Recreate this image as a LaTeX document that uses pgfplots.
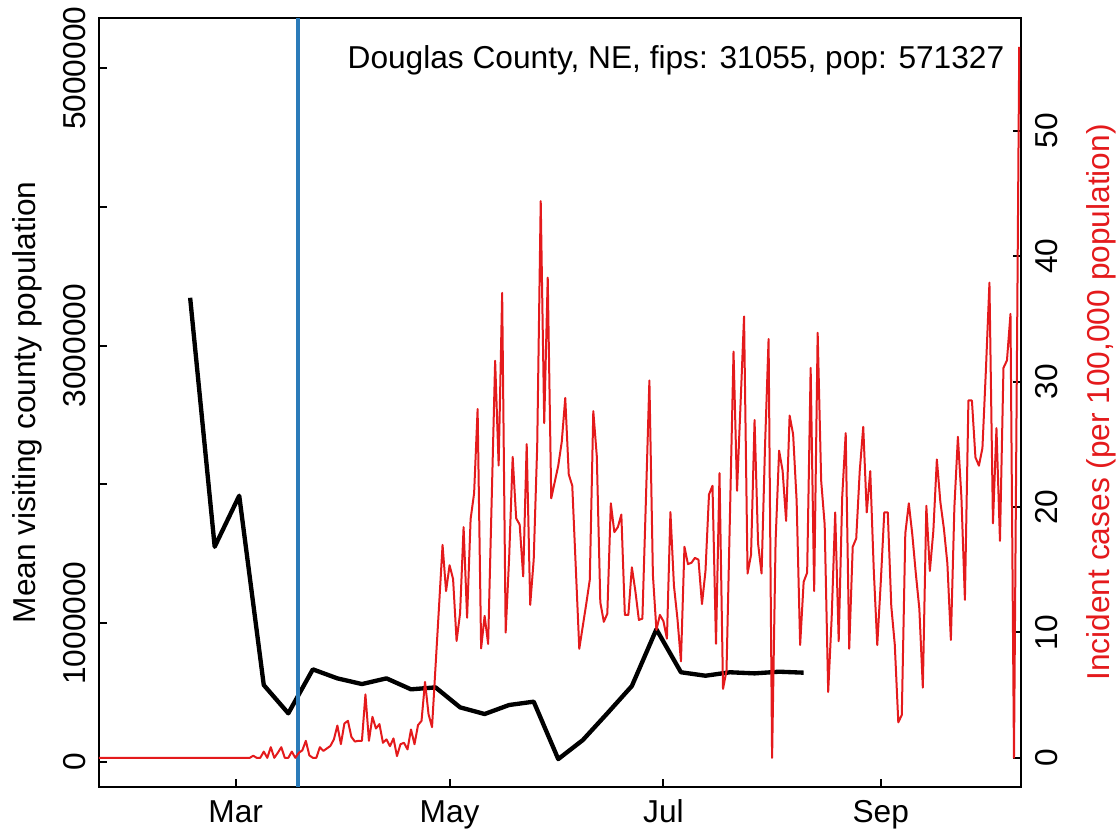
\documentclass[border=0pt]{standalone}
\usepackage{fontspec}
\setmainfont{Liberation Sans}
\usepackage{pgfplots}
\pgfplotsset{compat=1.18}
\definecolor{casered}{HTML}{E41A1C}
\definecolor{lineblue}{HTML}{2B7BB9}

\begin{document}
\begin{tikzpicture}[x=1pt,y=1pt]
\useasboundingbox (0,0) rectangle (335.7,249.3);
\pgfplotsset{
  every axis/.append style={
    scale only axis, width=276.6pt, height=230.6pt,
    at={(29.7pt,13.29pt)}, anchor=south west,
    xmin=-39, xmax=224,
    font=\fontsize{9.5}{11}\selectfont,
    tick align=inside, major tick length=2.4pt,
    tick style={line width=0.6pt, black},
    axis line style={line width=0.6pt, -},
    /pgf/number format/assume math mode=true,
  }
}
% mobility (left axis), x = days since 1 March 2020
\begin{axis}[
  ymin=-0.18e6, ymax=5.362e6,
  xtick={0,61,122,184}, xticklabels={Mar,May,Jul,Sep},
  xtick pos=left, ytick pos=left,
  ytick={0,1000000,2000000,3000000,4000000,5000000},
  yticklabels={0,1000000,,3000000,,5000000},
  scaled y ticks=false,
  xticklabel style={anchor=base, inner sep=0pt}, xticklabel shift=10.8pt,
  yticklabel style={rotate=90, anchor=south, inner sep=0pt}, yticklabel shift=3.9pt,
  ylabel={Mean visiting county population},
  ylabel style={at={(axis description cs:-0.0694,0.5)}, anchor=base, inner sep=0pt},
]
\addplot[black, line width=1.3pt, line join=round, mark=none] coordinates {
(-13,3345000) (-6,1550000) (1,1918000) (8,553000) (15,349000) (22,666000)
(29,601000) (36,560000) (43,601000) (50,522000) (57,536000) (64,392000)
(71,344000) (78,409000) (85,433000) (92,19000) (99,156000) (106,349000)
(113,546000) (120,955000) (127,645000) (134,620000) (141,645000)
(148,637000) (155,649000) (162,642000)
};
\addplot[lineblue, line width=1.3pt, mark=none] coordinates {(17.8,-180000) (17.8,5362000)};
\node[anchor=base east, inner sep=0pt] at (rel axis cs:0.9826,0.9337)
  {Douglas County, NE, fips: 31055, pop: 571327};
\end{axis}
% incident cases (right axis)
\begin{axis}[
  ymin=-2.3, ymax=59.0,
  axis x line=none,
  axis y line*=right,
  ytick={0,10,20,30,40,50},
  yticklabels={0,10,20,30,40,50},
  yticklabel style={rotate=90, anchor=north, inner sep=0pt}, yticklabel shift=4.2pt,
  ylabel={Incident cases (per 100,000 population)},
  ylabel style={at={(axis description cs:1.0965,0.5)}, anchor=base, inner sep=0pt, text=casered},
]
\addplot[casered, line width=0.6pt, line join=round, mark=none] coordinates {
(-39,0) (-30,0) (-20,0) (-10,0) (0,0) (4,0)
(5,0.17) (6,0) (7,0) (8,0.5) (9,0) (10,0.85) (11,0) (12,0.4) (13,0.85) (14,0)
(15,0) (16,0.5) (17,0) (18,0.4) (19,0.6) (20,1.36) (21,0.2) (22,0) (23,0)
(24,0.85) (25,0.55) (26,0.75) (27,0.95) (28,1.47) (29,2.58) (30,1.09)
(31,2.74) (32,2.95) (33,1.67) (34,1.3) (35,1.36) (36,1.36) (37,5.06)
(38,1.36) (39,3.27) (40,2.34) (41,2.69) (42,1.2) (43,1.47) (44,0.93)
(45,1.55) (46,0.14) (47,1.09) (48,1.2) (49,0.67) (50,2.26) (51,1.09)
(52,2.61) (53,2.95) (54,6.06) (55,3.48) (56,2.45) (57,7.3) (58,12.1)
(59,16.98) (60,13.3) (61,15.36) (62,14.27) (63,9.32) (64,11.53) (65,18.4)
(66,11.17) (67,19.04) (68,21.1) (69,27.82) (70,8.73) (71,11.32) (72,9.08)
(73,20.4) (74,31.66) (75,23.31) (76,37.08) (77,9.99) (78,16) (79,24.0)
(80,19.1) (81,18.6) (82,14.47) (83,25.02) (84,12.2) (85,15.8) (86,24.9)
(87,44.4) (88,26.7) (89,38.3) (90,20.7) (91,22.0) (92,23.3) (93,25.2)
(94,28.7) (95,22.6) (96,21.7) (97,15.2) (98,8.7) (99,10.5) (100,12.3)
(101,14.2) (102,27.65) (103,24.05) (104,12.4) (105,10.85) (106,11.5)
(107,20.3) (108,18.0) (109,18.4) (110,19.4) (111,11.4) (112,11.4)
(113,15.2) (114,13.3) (115,11.0) (116,11.1) (117,20.5) (118,30.1)
(119,14.6) (120,10.2) (121,11.4) (122,10.9) (123,9.5) (124,19.6)
(125,13.74) (126,11.1) (127,7.7) (128,16.83) (129,15.45) (130,15.56)
(131,15.95) (132,15.8) (133,12.26) (134,14.9) (135,21.0) (136,21.7)
(137,9.1) (138,22.7) (139,5.5) (140,6.96) (141,19.6) (142,32.4) (143,21.3)
(144,28.2) (145,35.2) (146,14.7) (147,16.2) (148,26.94) (149,17.1)
(150,14.7) (151,25) (152,33.4) (153,0) (154,17.3) (155,24.5) (156,22.9)
(157,18.9) (158,27.3) (159,25.8) (160,20.5) (161,9.0) (162,14.03)
(163,14.77) (164,31.1) (165,13.3) (166,33.9) (167,22.1) (168,18.6)
(169,5.25) (170,11.2) (171,19.57) (172,9.3) (173,20.8) (174,25.9)
(175,8.7) (176,16.83) (177,17.5) (178,22.87) (179,26.4) (180,19.57)
(181,22.87) (182,15) (183,9.0) (184,14) (185,19.57) (186,19.57) (187,12.1)
(188,9.02) (189,2.83) (190,3.42) (191,17.9) (192,20.3) (193,17.8)
(194,14.7) (195,11.9) (196,5.6) (197,20.1) (198,14.9) (199,18.1)
(200,23.8) (201,20.4) (202,18.3) (203,15.5) (204,9.4) (205,20) (206,25.6)
(207,20.8) (208,12.6) (209,28.5) (210,28.5) (211,23.97) (212,23.3)
(213,24.7) (214,31) (215,37.9) (216,18.7) (217,26.3) (218,17.3) (219,31.1)
(220,31.7) (221,35.4) (222,0) (223.5,56.7)
};
\end{axis}
\end{tikzpicture}
\end{document}
